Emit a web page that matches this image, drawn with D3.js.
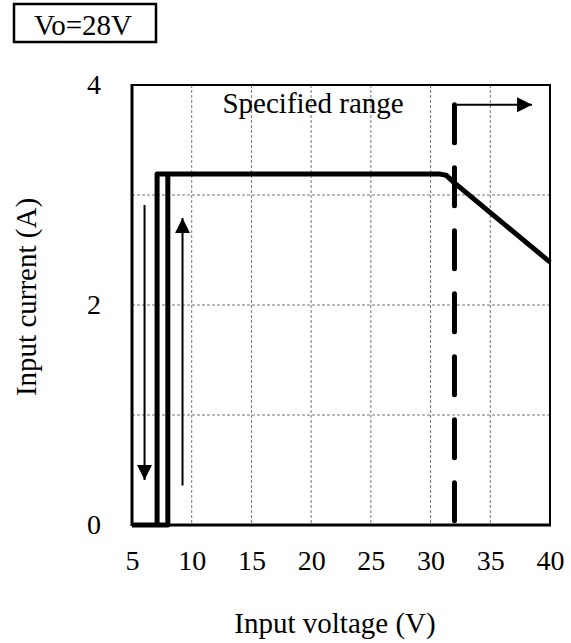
<!DOCTYPE html>
<html>
<head>
<meta charset="utf-8">
<script src="https://cdn.jsdelivr.net/npm/d3@7"></script>
<style>
body { margin: 0; background: #fff; }
text { font-family: "Liberation Serif", "Times New Roman", serif; fill: #000; }
</style>
</head>
<body>
<div id="chart"></div>
<script>
// x ticks, y ticks
var xTicks = [5, 10, 15, 20, 25, 30, 35, 40];
var yTicks = [0, 2, 4];
var yGrid = [1, 2, 3];
// curve: turn-on branch and turn-off / load branch (input V, input A)
var riseCurve = [[5, 0], [8.0, 0], [8.0, 3.19]];
var mainCurve = [[7.1, 0], [7.1, 3.19], [30.8, 3.19], [31.3, 3.18], [31.7, 3.14], [32.0, 3.11], [40, 2.39]];
var specLimit = 32.0;
var downArrow = [[6.05, 2.91], [6.05, 0.41]];
var upArrow = [[9.23, 0.36], [9.23, 2.79]];
var rangeArrow = [[32.2, 3.82], [38.5, 3.82]];

var W = 571, H = 643;
var margins = [85, 118, 132, 21]; // top bottom left right
var width = W - margins[2] - margins[3];
var height = H - margins[0] - margins[1];

var svg = d3.select("#chart").append("svg").attr("width", W).attr("height", H);

var defs = svg.append("defs");
defs.append("marker").attr("id", "head").attr("viewBox", "0 0 10 10")
  .attr("refX", 10).attr("refY", 5).attr("markerWidth", 7.5).attr("markerHeight", 7.5)
  .attr("markerUnits", "strokeWidth").attr("orient", "auto")
  .append("path").attr("d", "M0,0 L10,5 L0,10 Z").attr("fill", "#000");

// label box
svg.append("rect").attr("x", 14).attr("y", 4).attr("width", 142).attr("height", 38)
  .attr("fill", "none").attr("stroke", "#000").attr("stroke-width", 2.5);
svg.append("text").attr("x", 83).attr("y", 35).attr("text-anchor", "middle")
  .style("font-size", "29px").text("Vo=28V");

var g = svg.append("g").attr("transform", "translate(" + margins[2] + "," + margins[0] + ")");

var x = d3.scaleLinear().domain([5, 40]).range([0, width]);
var y = d3.scaleLinear().domain([0, 4]).range([height, 0]);

// grid
g.selectAll(".vgrid").data(xTicks.slice(1, -1)).enter().append("line")
  .attr("x1", function(d){return x(d)}).attr("x2", function(d){return x(d)})
  .attr("y1", 0).attr("y2", height)
  .attr("stroke", "#777").attr("stroke-width", 1).attr("stroke-dasharray", "3,2");
g.selectAll(".hgrid").data(yGrid).enter().append("line")
  .attr("x1", 0).attr("x2", width)
  .attr("y1", function(d){return y(d)}).attr("y2", function(d){return y(d)})
  .attr("stroke", "#777").attr("stroke-width", 1).attr("stroke-dasharray", "3,2");

// axes (labels only, frame drawn separately)
var xAxis = d3.axisBottom(x).tickValues(xTicks).tickFormat(d3.format("d")).tickSize(0).tickPadding(25);
var yAxis = d3.axisLeft(y).tickValues(yTicks).tickFormat(d3.format("d")).tickSize(0).tickPadding(31);
g.append("g").attr("transform", "translate(0," + height + ")").call(xAxis)
  .call(function(s){ s.select(".domain").remove(); })
  .selectAll("text").style("font-size", "28px").attr("font-family", null);
g.append("g").call(yAxis)
  .call(function(s){ s.select(".domain").remove(); })
  .selectAll("text").style("font-size", "28px").attr("font-family", null);

// frame
g.append("rect").attr("x", 0).attr("y", 0).attr("width", width).attr("height", height)
  .attr("fill", "none").attr("stroke", "#000").attr("stroke-width", 2);
g.append("line").attr("x1", 0).attr("x2", 0).attr("y1", -1).attr("y2", height + 1)
  .attr("stroke", "#000").attr("stroke-width", 3);
g.append("line").attr("x1", 0).attr("x2", width + 1).attr("y1", height).attr("y2", height)
  .attr("stroke", "#000").attr("stroke-width", 3);

// curves
var line = d3.line().x(function(d){return x(d[0])}).y(function(d){return y(d[1])});
g.append("path").attr("d", line(riseCurve)).attr("fill", "none")
  .attr("stroke", "#000").attr("stroke-width", 5).attr("stroke-linejoin", "round");
g.append("path").attr("d", line(mainCurve)).attr("fill", "none")
  .attr("stroke", "#000").attr("stroke-width", 5).attr("stroke-linejoin", "round");

// specified range limit
g.append("line").attr("x1", x(specLimit)).attr("x2", x(specLimit))
  .attr("y1", y(3.82)).attr("y2", height)
  .attr("stroke", "#000").attr("stroke-width", 5).attr("stroke-linecap", "round")
  .attr("stroke-dasharray", "38,25");

// arrows
[downArrow, upArrow, rangeArrow].forEach(function(a){
  g.append("line").attr("x1", x(a[0][0])).attr("y1", y(a[0][1]))
    .attr("x2", x(a[1][0])).attr("y2", y(a[1][1]))
    .attr("stroke", "#000").attr("stroke-width", 2).attr("marker-end", "url(#head)");
});

g.append("text").attr("x", x(20.16)).attr("y", 28).attr("text-anchor", "middle")
  .style("font-size", "29px").text("Specified range");

// axis titles
svg.append("text").attr("x", 335).attr("y", 633).attr("text-anchor", "middle")
  .style("font-size", "29px").text("Input voltage (V)");
svg.append("text").attr("transform", "translate(36,297) rotate(-90)")
  .attr("text-anchor", "middle").style("font-size", "29px").text("Input current (A)");
</script>
</body>
</html>
